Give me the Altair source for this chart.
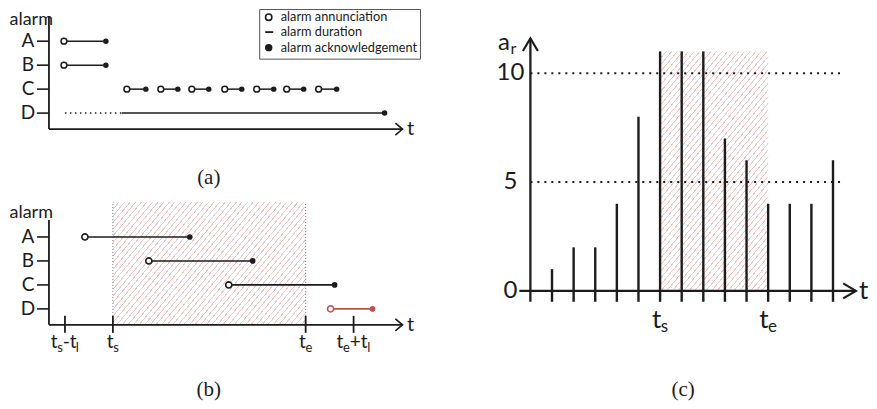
import math
import altair as alt
import pandas as pd

# ---------------- data ----------------
ROW = {"A": 4, "B": 3, "C": 2, "D": 1}
ALARMS = ["A", "B", "C", "D"]

# panel (a): annunciation / acknowledgement times (arbitrary time units)
a_alarm = ["A", "B", "C", "C", "C", "C", "C", "C", "C"]
a_start = [1.5, 1.5, 7.8, 11.2, 14.3, 17.6, 20.8, 23.8, 27.0]
a_ack = [5.7, 5.7, 9.7, 12.9, 16.0, 19.3, 22.5, 25.5, 28.8]
a_d_unknown = [1.6, 7.3]      # dotted (start unknown) part of alarm D
a_d_ack = 33.6

# panel (b)
b_alarm = ["A", "B", "C", "D"]
b_start = [3.6, 10.0, 18.0, 28.2]
b_ack = [14.1, 20.4, 28.6, 32.4]
b_red = [False, False, False, True]
b_tick_t = [1.6, 6.4, 25.7, 30.5]
b_tick_lab = [[("t", 0), ("s", 1), ("-t", 0), ("l", 1)],
              [("t", 0), ("s", 1)],
              [("t", 0), ("e", 1)],
              [("t", 0), ("e", 1), ("+t", 0), ("l", 1)]]
b_ts, b_te = 6.4, 25.7

# panel (c)
c_pos = list(range(1, 15))
c_rate = [1, 2, 2, 4, 8, 11, 11, 11, 7, 6, 4, 4, 4, 6]
c_ts, c_te = 6, 11
c_grid = [5, 10]
c_ylab = [0, 5, 10]

# ---------------- style ----------------
INK = "#1c1c1c"
RED = "#c0504d"
FONT = "Lato"
SERIF = "Liberation Serif"
EM = {"t": 0.34, "s": 0.43, "e": 0.527, "l": 0.26, "-": 0.34, "+": 0.58, "a": 0.52, "r": 0.35}


def textw(s, fs):
    return sum(EM.get(ch, 0.5) for ch in s) * fs


def S(lo, hi):
    return alt.Scale(domain=[lo, hi], nice=False, zero=False)


def mk(df, sx, sy, mark, **props):
    df = pd.DataFrame(df)
    enc = {"x": alt.X("x:Q", scale=sx, axis=None), "y": alt.Y("y:Q", scale=sy, axis=None)}
    if "x2" in df.columns:
        enc["x2"] = alt.X2("x2")
    if "y2" in df.columns:
        enc["y2"] = alt.Y2("y2")
    if "text" in df.columns:
        enc["text"] = alt.Text("text:N")
    if "fs" in df.columns:
        enc["size"] = alt.Size("fs:Q", scale=None, legend=None)
    return getattr(alt.Chart(df), "mark_" + mark)(**props).encode(**enc)


def hatch(W, H, period=5.6, angle=50, lw=0.9, color="#f3c6c6"):
    th = math.radians(angle)
    s, c = math.sin(th), math.cos(th)
    L = W * s + H * c
    k = L / (W * W * s * s + H * H * c * c)
    P = period * s
    clear = "rgba(255,255,255,0)"
    stops = []
    i = 0
    while i * P < L:
        o1 = i * P / L
        o2 = min(1.0, (i * P + lw) / L)
        stops += [(o1, clear), (o1, color), (o2, color), (o2, clear)]
        i += 1
    return alt.LinearGradient(gradient="linear", x1=0, y1=0, x2=W * s * k, y2=H * c * k,
                              stops=[alt.GradientStop(color=col, offset=o) for o, col in stops])


def composite(segs, x0, y_main, y_sub, fs_main, fs_sub, px_per):
    widths = [textw(t, fs_sub if sub else fs_main) for t, sub in segs]
    total = sum(widths)
    off = -total / 2
    rows = []
    for (t, sub), w in zip(segs, widths):
        rows.append({"x": x0 + off / px_per, "y": y_sub if sub else y_main,
                     "text": t, "fs": fs_sub if sub else fs_main})
        off += w
    return rows


RIGHT_ARROW = "M-1.2,-1L0,0L-1.2,1"
C_RIGHT = "M-1.7,-1L0,0L-1.7,1"
C_UP = "M-1,1.7L0,0L1,1.7"

# ---------------- panel (a) ----------------
SXA = S(-4.1, 39.9)
SYA = S(-2.625, 5.375)
AX = 1 / 3


def alarm_frame(sx, sy, ytop, alarm_y, t_end):
    return [
        mk({"x": [-1.2] * 4, "x2": [0] * 4, "y": [ROW[a] for a in ALARMS]}, sx, sy, "rule",
           color=INK, strokeWidth=1.6),
        mk({"x": [-2.1] * 4, "y": [ROW[a] for a in ALARMS], "text": ALARMS}, sx, sy, "text",
           font=FONT, fontSize=19, align="center", baseline="middle", color=INK),
        mk({"x": [-3.95], "y": [alarm_y], "text": ["alarm"]}, sx, sy, "text",
           font=FONT, fontSize=18, align="left", baseline="middle", color=INK),
        mk({"x": [0], "y": [AX], "y2": [ytop]}, sx, sy, "rule", color=INK, strokeWidth=1.8),
        mk({"x": [0], "x2": [t_end], "y": [AX]}, sx, sy, "rule", color=INK, strokeWidth=1.8),
        mk({"x": [t_end], "y": [AX]}, sx, sy, "point", shape=RIGHT_ARROW, filled=False,
           color=INK, size=144, strokeWidth=1.6, opacity=1),
        mk({"x": [t_end + 0.45], "y": [AX], "text": ["t"]}, sx, sy, "text",
           font=FONT, fontSize=20, align="left", baseline="middle", color=INK),
    ]


ya = [ROW[a] for a in a_alarm]
layers_a = alarm_frame(SXA, SYA, 5.05, 4.88, 35.4) + [
    mk({"x": a_start, "x2": a_ack, "y": ya}, SXA, SYA, "rule", color=INK, strokeWidth=1.5),
    mk({"x": [a_d_unknown[0]], "x2": [a_d_unknown[1]], "y": [ROW["D"]]}, SXA, SYA, "rule",
       color=INK, strokeWidth=1.5, strokeDash=[1.5, 3.5]),
    mk({"x": [a_d_unknown[1]], "x2": [a_d_ack], "y": [ROW["D"]]}, SXA, SYA, "rule",
       color=INK, strokeWidth=1.5),
    mk({"x": a_start, "y": ya}, SXA, SYA, "point", shape="circle", filled=True, fill="white",
       stroke=INK, strokeWidth=1.5, size=34, opacity=1),
    mk({"x": a_ack + [a_d_ack], "y": ya + [ROW["D"]]}, SXA, SYA, "point", shape="circle",
       filled=True, color=INK, size=30, opacity=1),
    # legend
    mk({"x": [21.1], "x2": [37.2], "y": [5.32], "y2": [3.25]}, SXA, SYA, "rect",
       fill="white", stroke="#555555", strokeWidth=1),
    mk({"x": [22.0], "y": [5.0]}, SXA, SYA, "point", shape="circle", filled=True, fill="white",
       stroke=INK, strokeWidth=1.6, size=40, opacity=1),
    mk({"x": [21.65], "x2": [22.45], "y": [4.38]}, SXA, SYA, "rule", color=INK, strokeWidth=1.8),
    mk({"x": [22.0], "y": [3.73]}, SXA, SYA, "point", shape="circle", filled=True, color=INK,
       size=55, opacity=1),
    mk({"x": [23.2] * 3, "y": [5.0, 4.38, 3.73],
        "text": ["alarm annunciation", "alarm duration", "alarm acknowledgement"]},
       SXA, SYA, "text", font=FONT, fontSize=12.8, align="left", baseline="middle", color=INK),
    mk({"x": [16.0], "y": [-1.71], "text": ["(a)"]}, SXA, SYA, "text",
       font=SERIF, fontSize=21, align="center", baseline="middle", color=INK),
]
panel_a = alt.layer(*layers_a).properties(width=440, height=192)

# ---------------- panel (b) ----------------
SXB = S(-4.1, 39.9)
SYB = S(-68 / 24, 133 / 24)
B_TOP = 5.46
yb = [ROW[a] for a in b_alarm]
ink_i = [i for i, r in enumerate(b_red) if not r]
red_i = [i for i, r in enumerate(b_red) if r]

lab_rows = []
for t0, segs in zip(b_tick_t, b_tick_lab):
    lab_rows += composite(segs, t0, -0.64, -0.8, 19, 13, 10.0)

layers_b = [
    mk({"x": [b_ts], "x2": [b_te], "y": [AX], "y2": [B_TOP]}, SXB, SYB, "rect",
       fill=hatch((b_te - b_ts) * 10.0, (B_TOP - AX) * 24.0), strokeWidth=0),
    mk({"x": [b_ts, b_te], "y": [AX, AX], "y2": [B_TOP, B_TOP]}, SXB, SYB, "rule",
       color="#777777", strokeWidth=1, strokeDash=[1, 2]),
] + alarm_frame(SXB, SYB, 4.71, 5.0, 35.4) + [
    mk({"x": b_tick_t, "y": [0.0] * 4, "y2": [0.71] * 4}, SXB, SYB, "rule",
       color=INK, strokeWidth=1.8),
    mk(lab_rows, SXB, SYB, "text", font=FONT, align="left", baseline="alphabetic", color=INK),
    mk({"x": [b_start[i] for i in ink_i], "x2": [b_ack[i] for i in ink_i],
        "y": [yb[i] for i in ink_i]}, SXB, SYB, "rule", color=INK, strokeWidth=1.6),
    mk({"x": [b_start[i] for i in red_i], "x2": [b_ack[i] for i in red_i],
        "y": [yb[i] for i in red_i]}, SXB, SYB, "rule", color=RED, strokeWidth=1.6),
    mk({"x": [b_start[i] for i in ink_i], "y": [yb[i] for i in ink_i]}, SXB, SYB, "point",
       shape="circle", filled=True, fill="white", stroke=INK, strokeWidth=1.6, size=38, opacity=1),
    mk({"x": [b_start[i] for i in red_i], "y": [yb[i] for i in red_i]}, SXB, SYB, "point",
       shape="circle", filled=True, fill="white", stroke=RED, strokeWidth=1.6, size=38, opacity=1),
    mk({"x": [b_ack[i] for i in ink_i], "y": [yb[i] for i in ink_i]}, SXB, SYB, "point",
       shape="circle", filled=True, color=INK, size=32, opacity=1),
    mk({"x": [b_ack[i] for i in red_i], "y": [yb[i] for i in red_i]}, SXB, SYB, "point",
       shape="circle", filled=True, color=RED, size=32, opacity=1),
    mk({"x": [16.0], "y": [-2.375], "text": ["(b)"]}, SXB, SYB, "text",
       font=SERIF, fontSize=21, align="center", baseline="middle", color=INK),
]
panel_b = alt.layer(*layers_b).properties(width=440, height=201)

# ---------------- panel (c) ----------------
PXC, PYC = 21.64, 21.8
SXC = S(-83 / PXC, 338 / PXC)
SYC = S(-110 / PYC, 283 / PYC)
C_TOP = 11.6

c_lab = composite([("t", 0), ("s", 1)], c_ts, -1.7, -1.88, 26, 17, PXC) + \
    composite([("t", 0), ("e", 1)], c_te, -1.7, -1.88, 26, 17, PXC)
ar_lab = [{"x": -1.5, "y": 11.05, "text": "a", "fs": 24},
          {"x": -1.5 + textw("a", 24) / PXC, "y": 10.87, "text": "r", "fs": 16}]

layers_c = [
    mk({"x": [c_ts], "x2": [c_te], "y": [0], "y2": [max(c_rate)]}, SXC, SYC, "rect",
       fill=hatch((c_te - c_ts) * PXC, max(c_rate) * PYC), strokeWidth=0),
    mk({"x": [0, 0], "x2": [14.42, 14.42], "y": c_grid}, SXC, SYC, "rule",
       color=INK, strokeWidth=2, strokeDash=[2, 5]),
    mk({"x": [0], "y": [-0.5], "y2": [C_TOP]}, SXC, SYC, "rule", color=INK, strokeWidth=2.3),
    mk({"x": [-0.51], "x2": [15.06], "y": [0]}, SXC, SYC, "rule", color=INK, strokeWidth=2.3),
    mk({"x": [0], "y": [C_TOP]}, SXC, SYC, "point", shape=C_UP, filled=False, color=INK,
       size=225, strokeWidth=2.2, opacity=1),
    mk({"x": [15.06], "y": [0]}, SXC, SYC, "point", shape=C_RIGHT, filled=False, color=INK,
       size=225, strokeWidth=2.2, opacity=1),
    mk({"x": c_pos, "y": [-0.5] * len(c_pos), "y2": c_rate}, SXC, SYC, "rule",
       color=INK, strokeWidth=2.4),
    mk({"x": [-0.92] * 3, "y": c_ylab, "text": [str(v) for v in c_ylab]}, SXC, SYC, "text",
       font=FONT, fontSize=24, align="center", baseline="middle", color=INK),
    mk({"x": [15.2], "y": [0], "text": ["t"]}, SXC, SYC, "text",
       font=FONT, fontSize=26, align="left", baseline="middle", color=INK),
    mk(c_lab + ar_lab, SXC, SYC, "text", font=FONT, align="left", baseline="alphabetic",
       color=INK),
    mk({"x": [7.07], "y": [-4.54], "text": ["(c)"]}, SXC, SYC, "text",
       font=SERIF, fontSize=21, align="center", baseline="middle", color=INK),
]
panel_c = alt.layer(*layers_c).properties(width=421, height=393)

chart = alt.hconcat(alt.vconcat(panel_a, panel_b, spacing=0), panel_c, spacing=0).properties(
    padding=0, background="white"
).configure_view(stroke=None)

chart.save("out.html", embed_options={"renderer": "svg", "actions": False})
